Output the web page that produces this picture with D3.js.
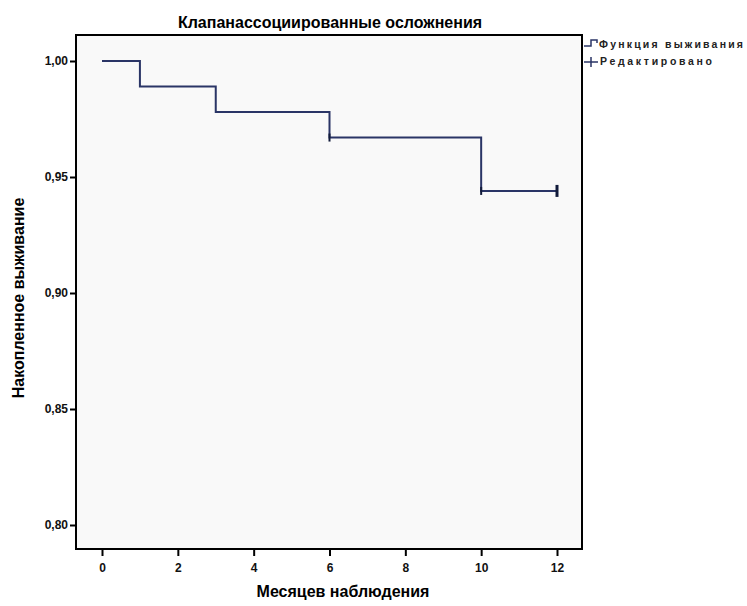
<!DOCTYPE html>
<html><head><meta charset="utf-8">
<script src="https://cdn.jsdelivr.net/npm/d3@7"></script>
<style>body{margin:0;background:#fff}svg{display:block}text{font-family:"Liberation Sans",Arial,sans-serif}</style>
</head><body>
<svg id="c" width="747" height="606"></svg>
<script>
const title = "Клапанассоциированные осложнения";
const xLabel = "Месяцев наблюдения";
const yLabel = "Накопленное выживание";
const legendLabels = ["Функция выживания", "Редактировано"];
const stepTimes = [0, 1, 3, 6, 10, 12];
const survival = [1.0, 0.989, 0.978, 0.967, 0.944, 0.944];
const censorTimes = [6, 10, 12];
const censorSurv = [0.967, 0.944, 0.944];
const xTicks = [0, 2, 4, 6, 8, 10, 12];
const yTicks = [0.80, 0.85, 0.90, 0.95, 1.00];

const svg = d3.select("#c");
const frame = {l: 76, t: 35, r: 582, b: 549};
const x = d3.scaleLinear().domain([0, 12]).range([102, 557]);
const y = d3.scaleLinear().domain([0.80, 1.00]).range([525, 61]);
const col = "#2a3566";

svg.append("rect").attr("x", frame.l).attr("y", frame.t)
  .attr("width", frame.r - frame.l).attr("height", frame.b - frame.t)
  .attr("fill", "#f9f9f9").attr("stroke", "#000").attr("stroke-width", 2);

const fmt = d => d3.format(".2f")(d).replace(".", ",");
const yAxis = svg.append("g").attr("transform", `translate(${frame.l},0)`)
  .call(d3.axisLeft(y).tickValues(yTicks).tickSize(6).tickFormat(fmt));
const xAxis = svg.append("g").attr("transform", `translate(0,${frame.b})`)
  .call(d3.axisBottom(x).tickValues(xTicks).tickSize(7).tickFormat(d3.format("d")));
[yAxis, xAxis].forEach(a => {
  a.select(".domain").remove();
  a.selectAll(".tick line").attr("stroke", "#000").attr("stroke-width", 2);
  a.selectAll(".tick text").attr("font-size", 12).attr("font-weight", "bold").attr("fill", "#111");
});
yAxis.selectAll(".tick text").attr("x", -8);
xAxis.selectAll(".tick text").attr("dy", "1.1em");

const data = stepTimes.map((t, i) => ({t, s: survival[i]}));
const line = d3.line().x(d => x(d.t)).y(d => y(d.s)).curve(d3.curveStepAfter);
svg.append("path").datum(data).attr("d", line).attr("fill", "none")
  .attr("stroke", col).attr("stroke-width", 2);

censorTimes.forEach((t, i) => {
  const cx = x(t), cy = y(censorSurv[i]);
  const big = i === censorTimes.length - 1;
  const h = big ? 6 : 4;
  svg.append("line").attr("x1", cx).attr("x2", cx).attr("y1", cy - h).attr("y2", cy + h)
    .attr("stroke", "#111a3a").attr("stroke-width", big ? 3 : 2);
});

svg.append("text").attr("x", 330).attr("y", 28).attr("text-anchor", "middle")
  .attr("font-size", 16).attr("font-weight", "bold").text(title);
svg.append("text").attr("x", 343).attr("y", 597).attr("text-anchor", "middle")
  .attr("font-size", 16).attr("font-weight", "bold").text(xLabel);
svg.append("text").attr("transform", "translate(24,298) rotate(-90)").attr("text-anchor", "middle")
  .attr("font-size", 16).attr("font-weight", "bold").text(yLabel);

// legend
const lg = svg.append("g");
lg.append("path").attr("d", "M584,46 H591 V40 H597 V43").attr("fill", "none").attr("stroke", col).attr("stroke-width", 1.5);
lg.append("text").attr("x", 599).attr("y", 48).attr("font-size", 10.5).attr("font-weight", "bold").attr("textLength", 144).attr("lengthAdjust", "spacing").attr("fill", "#222").text(legendLabels[0]);
lg.append("path").attr("d", "M584,62 H598 M591,57 V67").attr("fill", "none").attr("stroke", col).attr("stroke-width", 1.5);
lg.append("text").attr("x", 600).attr("y", 65).attr("font-size", 10.5).attr("font-weight", "bold").attr("textLength", 112).attr("lengthAdjust", "spacing").attr("fill", "#222").text(legendLabels[1]);
</script>
</body></html>
